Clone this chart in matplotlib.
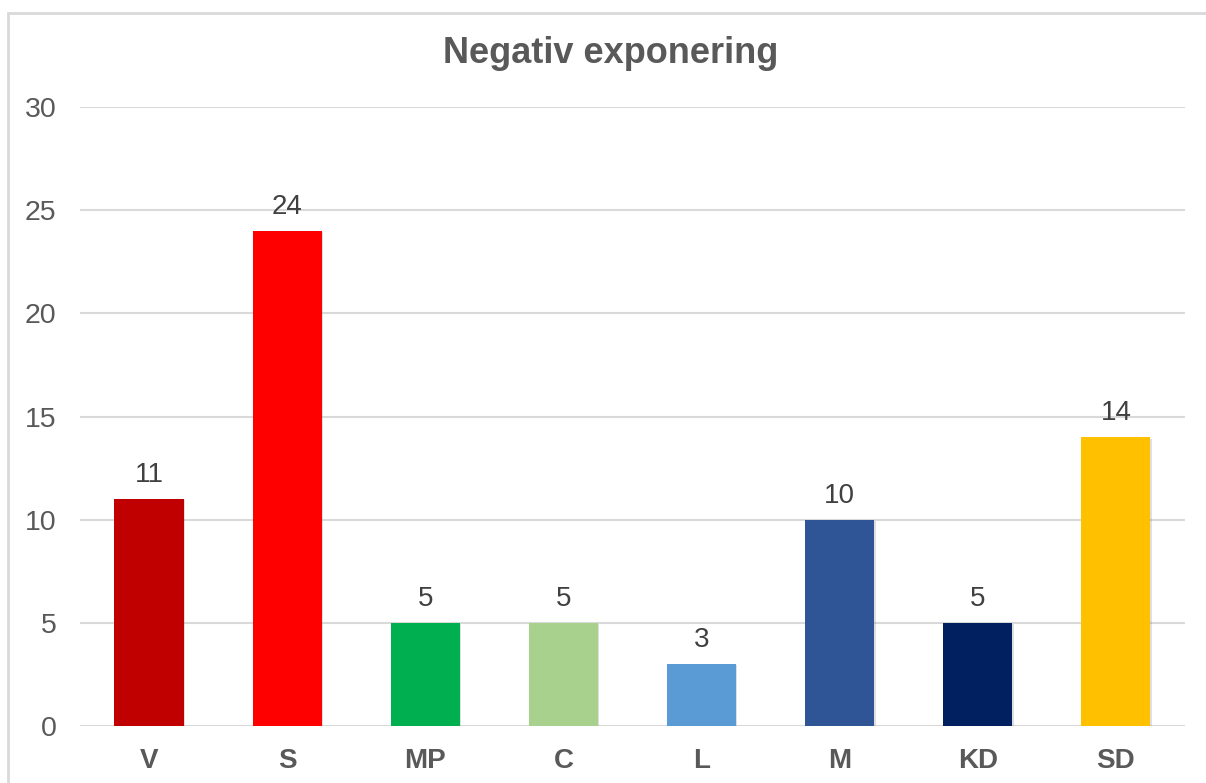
import matplotlib.pyplot as plt
import matplotlib.patheffects as pe
from matplotlib.patches import Rectangle

parties = ['V', 'S', 'MP', 'C', 'L', 'M', 'KD', 'SD']
counts = [11, 24, 5, 5, 3, 10, 5, 14]
colors = ['#C00000', '#FF0000', '#00B050', '#A9D18E', '#5B9BD5', '#2F5597', '#002060', '#FFC000']
yticks = [0, 5, 10, 15, 20, 25, 30]

plt.rcParams['font.family'] = ['Liberation Sans', 'DejaVu Sans']

fig = plt.figure(figsize=(12.06, 7.83), dpi=100)
ax = fig.add_axes([0.0663, 0.0728, 0.9163, 0.7905])

# outer chart frame (cut off at right and bottom like in the screenshot)
fig.patches.append(Rectangle((8 / 1206, -0.1), 1.2, 1 - 13 / 783 + 0.1,
                             transform=fig.transFigure, fill=False,
                             edgecolor='#d9d9d9', linewidth=2))

x = range(len(parties))
bars = ax.bar(x, counts, width=0.5, color=colors, zorder=3)
for b in bars:
    b.set_path_effects([pe.SimplePatchShadow(offset=(1, -1), shadow_rgbFace='#808080', alpha=0.25),
                        pe.Normal()])

for b, v in zip(bars, counts):
    ax.text(b.get_x() + b.get_width() / 2, v + 0.82, str(v),
            ha='center', va='baseline', fontsize=20, color='#404040')

ax.set_xlim(-0.5, len(parties) - 0.5)
ax.set_ylim(0, 30)
ax.set_yticks(yticks)
ax.set_xticks(list(x))
ax.set_xticklabels(parties, fontsize=20, fontweight='bold', color='#595959')
ax.tick_params(axis='y', labelsize=20.5, labelcolor='#595959', length=0, pad=17)
ax.tick_params(axis='x', length=0, pad=16)
ax.grid(axis='y', color='#d9d9d9', linewidth=1.5, zorder=0)
for s in ax.spines.values():
    s.set_visible(False)

fig.text(0.506, 1 - 63 / 783, 'Negativ exponering', ha='center', va='baseline',
         fontsize=26, fontweight='bold', color='#595959')

fig.savefig('out.png', dpi=100, facecolor='white')
